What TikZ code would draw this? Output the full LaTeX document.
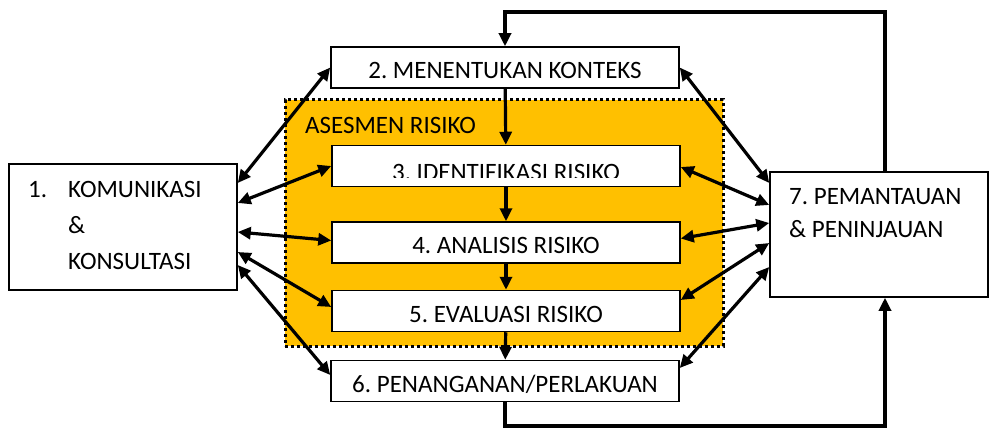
\documentclass[tikz,border=0pt]{standalone}
\usepackage{fontspec}
\setmainfont{Carlito}
\usetikzlibrary{arrows.meta}
\definecolor{riskfill}{HTML}{FFC000}
\frenchspacing
\begin{document}
\begin{tikzpicture}[x=1pt,y=-1pt,
  >={Triangle[length=13pt,width=12pt]},
  boxfont/.style={font=\fontsize{25}{29}\selectfont},
  stepbox/.style={draw=black,line width=1.5pt,fill=white,minimum width=348pt,
    minimum height=41pt,inner sep=0pt,text height=22pt,text depth=0pt,boxfont},
  sidebox/.style={draw=black,line width=1.5pt,fill=white,inner sep=0pt},
  label/.style={inner sep=0pt,anchor=base west,boxfont},
  link/.style={line width=3.2pt,<->},
  flow/.style={line width=3.2pt,->},
  loop/.style={line width=3.2pt,->,line join=miter}]
\useasboundingbox (0,0) rectangle (989,428);

% risk assessment area
\node[fill=riskfill,draw=black,line width=3pt,dash pattern=on 3pt off 3pt,
  minimum width=438pt,minimum height=246pt,inner sep=0pt] (ases) at (504,223) {};
\node[label] (asesl) at (305,133) {ASESMEN RISIKO};

% process steps
\node[stepbox] (b2) at (505,67.5) {2. MENENTUKAN KONTEKS};
\node[stepbox] (b3) at (506,166) {};
\begin{scope}
  \clip (332,145) rectangle (680,177);
  \node[stepbox,draw=none,fill=none] (b3t) at (506,169) {3. IDENTIFIKASI RISIKO};
\end{scope}
\node[stepbox] (b4) at (506,242.5) {4. ANALISIS RISIKO};
\node[stepbox] (b5) at (506,311) {5. EVALUASI RISIKO};
\node[stepbox] (b6) at (505,381) {6. PENANGANAN/PERLAKUAN};

% communication box
\node[sidebox,minimum width=228pt,minimum height=126pt] (b1) at (123,227) {};
\node[label] (b1n) at (28,197.5) {1.};
\node[label] (b1a) at (68,197.5) {KOMUNIKASI};
\node[label] (b1b) at (68,233.5) {\&};
\node[label] (b1c) at (68,269.5) {KONSULTASI};

% monitoring box
\node[sidebox,minimum width=218pt,minimum height=125pt] (b7) at (879,234.5) {};
\node[label] (b7a) at (789,204) {7. PEMANTAUAN};
\node[label] (b7b) at (789,237) {\& PENINJAUAN};

% main flow
\draw[flow] (b2) -- (b3);
\draw[flow] (b3) -- (b4);
\draw[flow] (b4) -- (b5);
\draw[flow] (b5) -- (b6);

% links to communication
\draw[link] ([yshift=44pt]b1.east) -- (b2.west);
\draw[link] ([yshift=24pt]b1.east) -- (b3.west);
\draw[link] ([yshift=-5pt]b1.east) -- ([yshift=2pt]b4.west);
\draw[link] ([yshift=-25pt]b1.east) -- ([yshift=4pt]b5.west);
\draw[link] ([yshift=-38pt]b1.east) -- ([yshift=6pt]b6.west);

% links to monitoring
\draw[link] (b2.east) -- ([yshift=51.5pt]b7.west);
\draw[link] ([yshift=-1pt]b3.east) -- ([yshift=29.5pt]b7.west);
\draw[link] ([yshift=4pt]b4.east) -- ([yshift=11.5pt]b7.west);
\draw[link] ([yshift=11pt]b5.east) -- ([yshift=-8.5pt]b7.west);
\draw[link] ([yshift=13pt]b6.east) -- ([yshift=-32.5pt]b7.west);

% feedback loops
\coordinate (loopT) at (700,12);
\coordinate (loopB) at (700,426);
\draw[loop] ([xshift=6pt]b7.north) |- (loopT) -| (b2.north);
\draw[loop] (b6.south) |- (loopB) -| ([xshift=6pt]b7.south);
\end{tikzpicture}
\end{document}
